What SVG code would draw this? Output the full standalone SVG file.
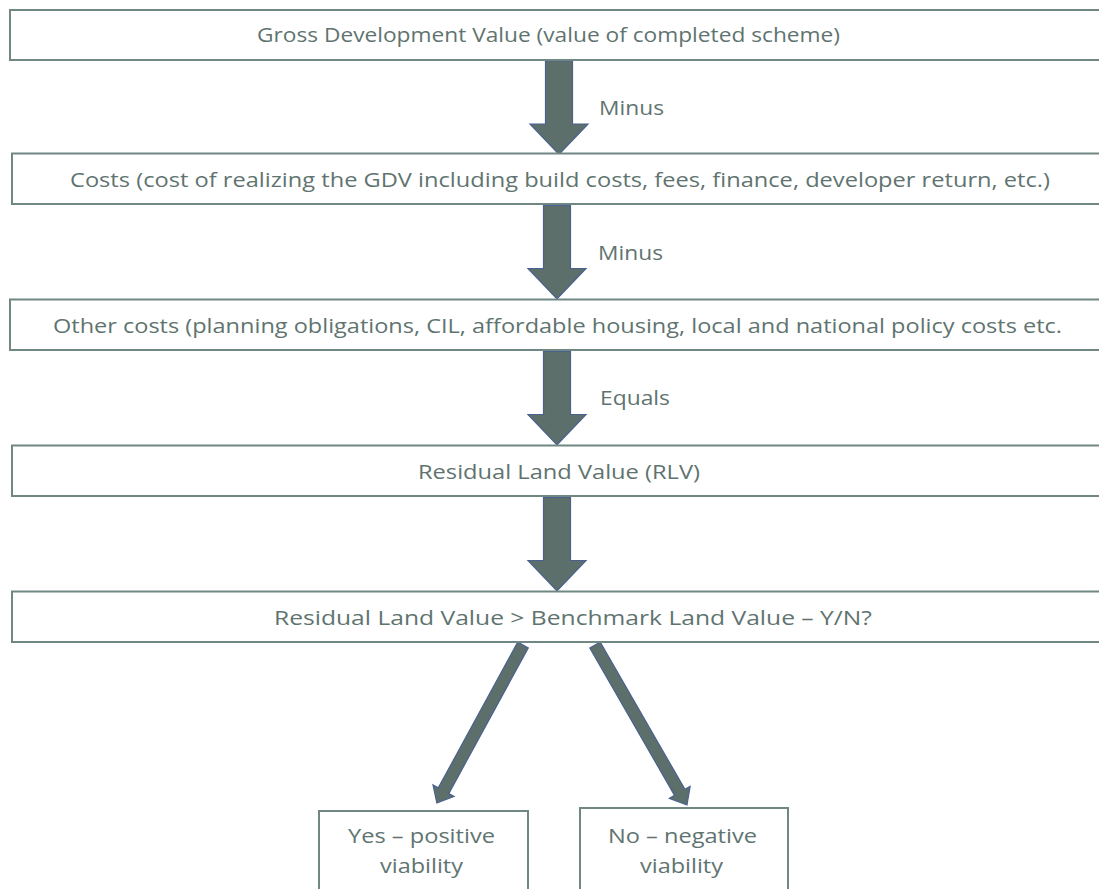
<svg xmlns="http://www.w3.org/2000/svg" xmlns:xlink="http://www.w3.org/1999/xlink" width="1099" height="889" viewBox="0 0 1099 889">
<style>
.box{fill:#ffffff;stroke:#718783;stroke-width:2}
.arr{fill:#5c6f6b;stroke:#4a6190;stroke-width:1.2;stroke-linejoin:miter}
.t{font-family:"Open Sans","Noto Sans","Liberation Sans",sans-serif;font-size:20px;fill:#5f7470}
</style>
<defs>
<polygon id="varrow" points="-13.5,0 13.5,0 13.5,63 29,63 0,93.5 -29,63 -13.5,63"/>
</defs>
<rect x="0" y="0" width="1099" height="889" fill="#ffffff"/>
<g id="connectors">
<use xlink:href="#varrow" class="arr" transform="translate(559,61)"/>
<use xlink:href="#varrow" class="arr" transform="translate(557,205.5)"/>
<use xlink:href="#varrow" class="arr" transform="translate(557,351.5)"/>
<use xlink:href="#varrow" class="arr" transform="translate(557,497.5)"/>
<polygon class="arr" transform="translate(523,645) rotate(28.6)" points="-6,0 6,0 6,166 12,166 0,180 -12,166 -6,166"/>
<polygon class="arr" transform="translate(595,645) rotate(-29.9)" points="-6,0 6,0 6,170 12,170 0,184.5 -12,170 -6,170"/>
<text class="t" x="599" y="115" textLength="65" lengthAdjust="spacingAndGlyphs">Minus</text>
<text class="t" x="598" y="260" textLength="65" lengthAdjust="spacingAndGlyphs">Minus</text>
<text class="t" x="600" y="405" textLength="70" lengthAdjust="spacingAndGlyphs">Equals</text>
</g>
<g id="gdv">
<rect class="box" x="10" y="10" width="1100" height="50"/>
<text class="t" x="257" y="42" textLength="583" lengthAdjust="spacingAndGlyphs">Gross Development Value (value of completed scheme)</text>
</g>
<g id="costs">
<rect class="box" x="12" y="153.5" width="1100" height="50.5"/>
<text class="t" x="70" y="187" textLength="980" lengthAdjust="spacingAndGlyphs">Costs (cost of realizing the GDV including build costs, fees, finance, developer return, etc.)</text>
</g>
<g id="other">
<rect class="box" x="10" y="299.5" width="1100" height="50.5"/>
<text class="t" x="53" y="333" textLength="1009" lengthAdjust="spacingAndGlyphs">Other costs (planning obligations, CIL, affordable housing, local and national policy costs etc.</text>
</g>
<g id="rlv">
<rect class="box" x="12" y="445.5" width="1100" height="50.5"/>
<text class="t" x="418" y="479" textLength="282" lengthAdjust="spacingAndGlyphs">Residual Land Value (RLV)</text>
</g>
<g id="bench">
<rect class="box" x="12" y="591.5" width="1100" height="50.5"/>
<text class="t" x="274" y="625" textLength="598" lengthAdjust="spacingAndGlyphs">Residual Land Value &gt; Benchmark Land Value – Y/N?</text>
</g>
<g id="yes">
<rect class="box" x="319" y="811" width="209" height="100"/>
<text class="t" x="348" y="843" textLength="147" lengthAdjust="spacingAndGlyphs">Yes – positive</text>
<text class="t" x="380" y="873" textLength="83" lengthAdjust="spacingAndGlyphs">viability</text>
</g>
<g id="no">
<rect class="box" x="580" y="808" width="208" height="100"/>
<text class="t" x="608" y="843" textLength="149" lengthAdjust="spacingAndGlyphs">No – negative</text>
<text class="t" x="640" y="873" textLength="83" lengthAdjust="spacingAndGlyphs">viability</text>
</g>
</svg>
